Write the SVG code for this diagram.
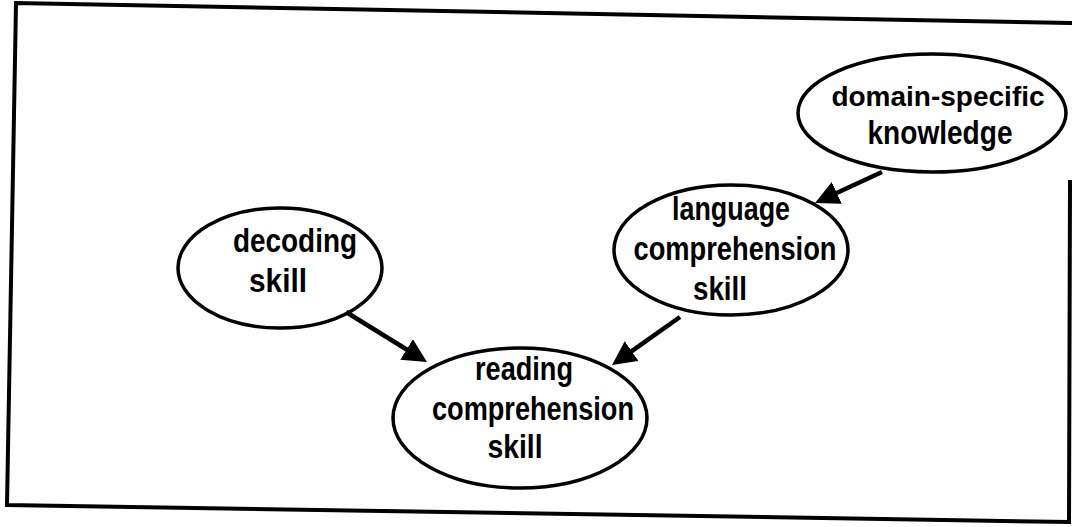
<svg xmlns="http://www.w3.org/2000/svg" width="1073" height="527" viewBox="0 0 1073 527">
<style>
.bg{fill:#ffffff}
.frame{fill:none;stroke:#000;stroke-width:4;stroke-linecap:square}
.node ellipse{fill:none;stroke:#000;stroke-width:3.5}
.node text{font-family:"Liberation Sans",Arial,sans-serif;font-weight:bold;font-size:33px;fill:#000;text-anchor:middle}
.node text.fit{font-size:28px}
.edge{fill:none;stroke:#000;stroke-width:4.5;marker-end:url(#arrow)}
</style>
<defs>
<marker id="arrow" markerUnits="userSpaceOnUse" markerWidth="26" markerHeight="26" refX="2" refY="12" orient="auto">
<path d="M0,0 L24,12 L0,24 z" fill="#000"/>
</marker>
</defs>
<rect class="bg" x="0" y="0" width="1073" height="527"/>
<g id="frame">
<path class="frame" d="M1070,23 L16,3 L7,505 L1069,522 L1070,182"/>
</g>
<g id="connectors">
<line class="edge" x1="882" y1="172" x2="835" y2="193.8"/>
<line class="edge" x1="346" y1="312" x2="408.3" y2="350.5"/>
<line class="edge" x1="680" y1="317" x2="630" y2="352.3"/>
</g>
<g id="node-domain" class="node">
<ellipse cx="932" cy="113" rx="134" ry="59"/>
<text class="fit" x="938" y="106">domain-specific</text>
<text x="940" y="144" textLength="145" lengthAdjust="spacingAndGlyphs">knowledge</text>
</g>
<g id="node-language" class="node">
<ellipse cx="731" cy="250" rx="117" ry="65"/>
<text x="731" y="220" textLength="118" lengthAdjust="spacingAndGlyphs">language</text>
<text x="735" y="260" textLength="203" lengthAdjust="spacingAndGlyphs">comprehension</text>
<text x="720" y="300" textLength="54" lengthAdjust="spacingAndGlyphs">skill</text>
</g>
<g id="node-decoding" class="node">
<ellipse cx="280" cy="268" rx="102" ry="60"/>
<text x="295" y="252" textLength="124" lengthAdjust="spacingAndGlyphs">decoding</text>
<text x="278" y="292" textLength="58" lengthAdjust="spacingAndGlyphs">skill</text>
</g>
<g id="node-reading" class="node">
<ellipse cx="520" cy="418" rx="127" ry="70"/>
<text x="524" y="380" textLength="98" lengthAdjust="spacingAndGlyphs">reading</text>
<text x="533" y="420" textLength="202" lengthAdjust="spacingAndGlyphs">comprehension</text>
<text x="515" y="458" textLength="55" lengthAdjust="spacingAndGlyphs">skill</text>
</g>
</svg>
